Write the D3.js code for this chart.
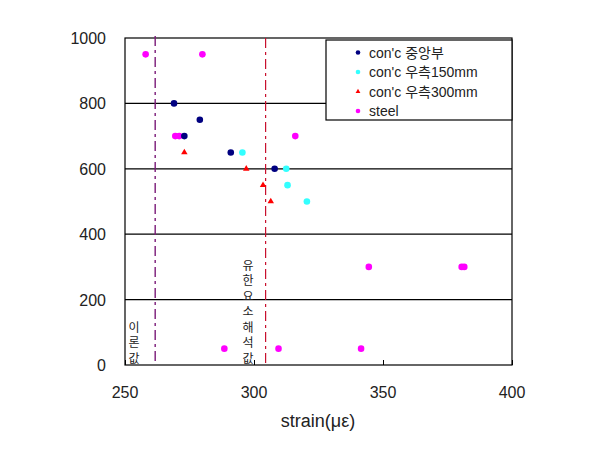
<!DOCTYPE html>
<html>
<head>
<meta charset="utf-8">
<script src="https://cdn.jsdelivr.net/npm/d3@7"></script>
<style>
  body { margin: 0; background: #fff; }
  text { font-family: "Liberation Sans", "Noto Sans CJK KR", sans-serif; }
</style>
</head>
<body>
<div id="chart"></div>
<script>
// series data: [strain, load]
const seriesNames = ["con'c 중앙부", "con'c 우측150mm", "con'c 우측300mm", "steel"];
const centerPts = [[269, 800], [279, 750], [273, 700], [291, 650], [308, 600]];
const right150Pts = [[295.5, 650], [312.5, 600], [313, 550], [320.5, 500]];
const right300Pts = [[273, 650], [297, 600], [303.5, 550], [306.5, 500]];
const steelPts = [[258, 950], [280, 950], [269.5, 700], [271, 700], [316, 700],
  [344.5, 300], [380.5, 300], [381.5, 300], [288.5, 50], [309.5, 50], [341.5, 50]];
const xTicks = [250, 300, 350, 400];
const yTicks = [0, 200, 400, 600, 800, 1000];
const theoryValue = 261.7;   // 이론값
const femValue = 304.5;      // 유한요소해석값

const W = 609, H = 450;
const margin = { top: 38, right: 97, bottom: 85, left: 125 };
const width = W - margin.left - margin.right;
const height = H - margin.top - margin.bottom;

const svg = d3.select("#chart").append("svg")
  .attr("width", W).attr("height", H);
const g = svg.append("g")
  .attr("transform", `translate(${margin.left},${margin.top})`);

const x = d3.scaleLinear().domain([250, 400]).range([0, width]);
const y = d3.scaleLinear().domain([0, 1000]).range([height, 0]);

// horizontal grid
g.append("g")
  .selectAll("line")
  .data(yTicks.filter(d => d > 0 && d < 1000))
  .enter().append("line")
  .attr("x1", 0).attr("x2", width)
  .attr("y1", d => y(d)).attr("y2", d => y(d))
  .attr("stroke", "#000").attr("stroke-width", 1.2);

// x axis ticks (inward)
const xAxis = g.append("g")
  .attr("transform", `translate(0,${height})`)
  .call(d3.axisTop(x).tickValues(xTicks).tickSize(5).tickFormat(""));
xAxis.select(".domain").remove();
g.append("g")
  .selectAll("text")
  .data(xTicks)
  .enter().append("text")
  .attr("x", d => x(d)).attr("y", height + 33)
  .attr("text-anchor", "middle")
  .attr("font-size", 16).attr("fill", "#222")
  .text(d => d);

// y tick labels
g.append("g")
  .selectAll("text")
  .data(yTicks)
  .enter().append("text")
  .attr("x", -19).attr("y", d => y(d) + 6)
  .attr("text-anchor", "end")
  .attr("font-size", 16).attr("fill", "#222")
  .text(d => d);

// frame
g.append("rect")
  .attr("width", width).attr("height", height)
  .attr("fill", "none").attr("stroke", "#000").attr("stroke-width", 1.2);

// reference dashed lines
g.append("line")
  .attr("x1", x(theoryValue)).attr("x2", x(theoryValue))
  .attr("y1", -2).attr("y2", height)
  .attr("stroke", "#7a1a78").attr("stroke-width", 1.4)
  .attr("stroke-dasharray", "10,4,3,4");
g.append("line")
  .attr("x1", x(femValue)).attr("x2", x(femValue))
  .attr("y1", 0).attr("y2", height)
  .attr("stroke", "#c8102e").attr("stroke-width", 1.2)
  .attr("stroke-dasharray", "10,4,3,4");

// vertical stacked labels
function stacked(str, cx, yLast) {
  const chars = Array.from(str);
  const step = 15.5;
  g.append("g").selectAll("text")
    .data(chars)
    .enter().append("text")
    .attr("x", cx)
    .attr("y", (d, i) => yLast - (chars.length - 1 - i) * step + 4.5)
    .attr("text-anchor", "middle")
    .attr("font-size", 12)
    .attr("fill", "#222")
    .style("font-family", "'Noto Sans CJK KR', sans-serif")
    .text(d => d);
}
stacked("이론값", 134 - margin.left, 358 - margin.top);
stacked("유한요소해석값", 248 - margin.left, 358 - margin.top);

// points
const dot = (data, color, r) => g.append("g")
  .selectAll("circle")
  .data(data)
  .enter().append("circle")
  .attr("cx", d => x(d[0])).attr("cy", d => y(d[1]))
  .attr("r", r).attr("fill", color);

dot(steelPts, "#ff00ff", 3.3);
dot(centerPts, "#000080", 3.3);
dot(right150Pts, "#33ffff", 3.3);
g.append("g")
  .selectAll("path")
  .data(right300Pts)
  .enter().append("path")
  .attr("transform", d => `translate(${x(d[0])},${y(d[1])})`)
  .attr("d", d3.symbol(d3.symbolTriangle, 18)())
  .attr("fill", "#ff0000");

// legend
const lg = svg.append("g").attr("transform", "translate(326,40)");
lg.append("rect")
  .attr("width", 186).attr("height", 80)
  .attr("fill", "#fff").attr("stroke", "#000").attr("stroke-width", 1.2);
const legColors = ["#000080", "#33ffff", "#ff0000", "#ff00ff"];
seriesNames.forEach((name, i) => {
  const cy = 12.5 + i * 19.5;
  if (i === 2) {
    lg.append("path")
      .attr("transform", `translate(32,${cy})`)
      .attr("d", d3.symbol(d3.symbolTriangle, 10)())
      .attr("fill", legColors[i]);
  } else {
    lg.append("circle").attr("cx", 32).attr("cy", cy).attr("r", 2.3)
      .attr("fill", legColors[i]);
  }
  lg.append("text")
    .attr("x", 43).attr("y", cy + 5)
    .attr("font-size", 14).attr("fill", "#222")
    .text(name);
});

// x axis title
svg.append("text")
  .attr("x", 318).attr("y", 427)
  .attr("text-anchor", "middle")
  .attr("font-size", 18).attr("fill", "#222")
  .text("strain(με)");
</script>
</body>
</html>
